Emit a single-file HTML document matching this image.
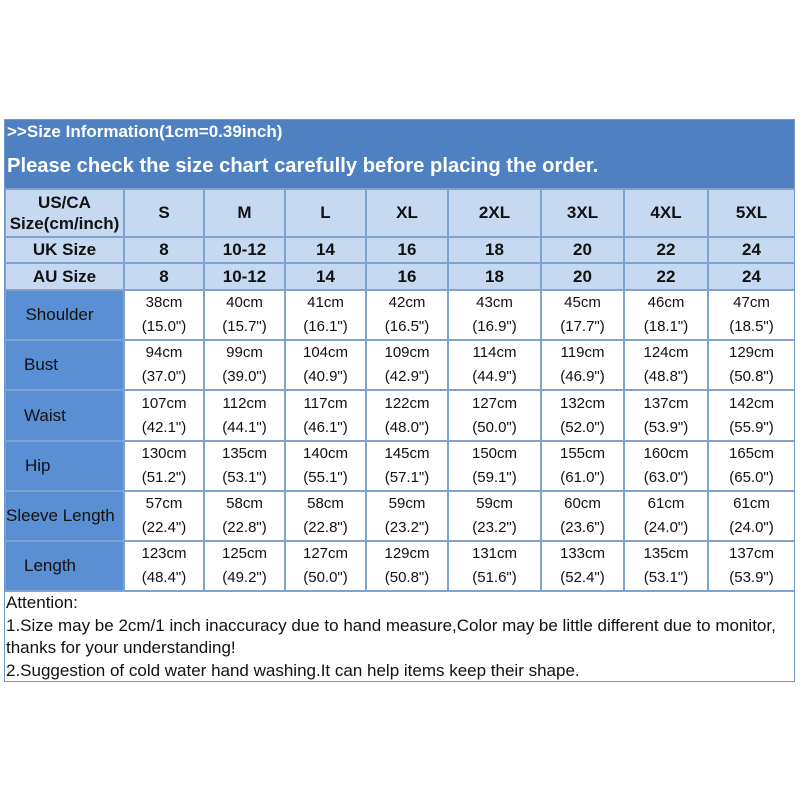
<!DOCTYPE html>
<html><head><style>
body{margin:0;width:800px;height:800px;background:#fff;font-family:"Liberation Sans",Arial,sans-serif;position:relative;overflow:hidden}
.box{position:absolute;left:4px;top:119px;width:791px;height:563px;border:1px solid #6f96c4;box-sizing:border-box;overflow:hidden}
.hd{background:#4f81c2;color:#fff;font-weight:bold;height:68px;position:relative}
.hd .a{position:absolute;left:2px;top:2px;font-size:17px}
.hd .b{position:absolute;left:2px;top:35px;font-size:20.2px}
table{border-collapse:collapse;table-layout:fixed;width:790px;margin-left:-1px}
td{border:2px solid #7ea3cf;text-align:center;padding:0;color:#111}
tr.h td{background:#c6d9f0;font-weight:bold;font-size:17px}
tr.d td{font-size:15px;line-height:24px}
tr.d td.l{background:#5a8fd3;color:#111;font-size:17px;padding-right:10px}
.att{font-size:17px;color:#111;padding:0 0 0 1px;line-height:22.5px}
</style></head><body>
<div class="box">
<div class="hd"><div class="a">&gt;&gt;Size Information(1cm=0.39inch)</div><div class="b">Please check the size chart carefully before placing the order.</div></div>
<table>
<colgroup><col style="width:119px"><col style="width:80px"><col style="width:81px"><col style="width:81px"><col style="width:82px"><col style="width:93px"><col style="width:83px"><col style="width:84px"><col style="width:87px"></colgroup>
<tr class="h" style="height:48px"><td style="line-height:21px">US/CA<br>Size(cm/inch)</td><td>S</td><td>M</td><td>L</td><td>XL</td><td>2XL</td><td>3XL</td><td>4XL</td><td>5XL</td></tr>
<tr class="h" style="height:26px"><td>UK Size</td><td>8</td><td>10-12</td><td>14</td><td>16</td><td>18</td><td>20</td><td>22</td><td>24</td></tr>
<tr class="h" style="height:27px"><td>AU Size</td><td>8</td><td>10-12</td><td>14</td><td>16</td><td>18</td><td>20</td><td>22</td><td>24</td></tr>
<tr class="d" style="height:50px"><td class="l">Shoulder</td><td>38cm<br>(15.0")</td><td>40cm<br>(15.7")</td><td>41cm<br>(16.1")</td><td>42cm<br>(16.5")</td><td>43cm<br>(16.9")</td><td>45cm<br>(17.7")</td><td>46cm<br>(18.1")</td><td>47cm<br>(18.5")</td></tr>
<tr class="d" style="height:49px"><td class="l" style="text-align:left;padding-left:18px">Bust</td><td>94cm<br>(37.0")</td><td>99cm<br>(39.0")</td><td>104cm<br>(40.9")</td><td>109cm<br>(42.9")</td><td>114cm<br>(44.9")</td><td>119cm<br>(46.9")</td><td>124cm<br>(48.8")</td><td>129cm<br>(50.8")</td></tr>
<tr class="d" style="height:51px"><td class="l" style="text-align:left;padding-left:18px">Waist</td><td>107cm<br>(42.1")</td><td>112cm<br>(44.1")</td><td>117cm<br>(46.1")</td><td>122cm<br>(48.0")</td><td>127cm<br>(50.0")</td><td>132cm<br>(52.0")</td><td>137cm<br>(53.9")</td><td>142cm<br>(55.9")</td></tr>
<tr class="d" style="height:50px"><td class="l" style="text-align:left;padding-left:19px">Hip</td><td>130cm<br>(51.2")</td><td>135cm<br>(53.1")</td><td>140cm<br>(55.1")</td><td>145cm<br>(57.1")</td><td>150cm<br>(59.1")</td><td>155cm<br>(61.0")</td><td>160cm<br>(63.0")</td><td>165cm<br>(65.0")</td></tr>
<tr class="d" style="height:50px"><td class="l" style="padding:0;text-align:left">Sleeve Length</td><td>57cm<br>(22.4")</td><td>58cm<br>(22.8")</td><td>58cm<br>(22.8")</td><td>59cm<br>(23.2")</td><td>59cm<br>(23.2")</td><td>60cm<br>(23.6")</td><td>61cm<br>(24.0")</td><td>61cm<br>(24.0")</td></tr>
<tr class="d" style="height:47px"><td class="l" style="text-align:left;padding-left:18px">Length</td><td>123cm<br>(48.4")</td><td>125cm<br>(49.2")</td><td>127cm<br>(50.0")</td><td>129cm<br>(50.8")</td><td>131cm<br>(51.6")</td><td>133cm<br>(52.4")</td><td>135cm<br>(53.1")</td><td>137cm<br>(53.9")</td></tr>
</table>
<div class="att">Attention:<br>1.Size may be 2cm/1 inch inaccuracy due to hand measure,Color may be little different due to monitor,<br>thanks for your understanding!<br>2.Suggestion of cold water hand washing.It can help items keep their shape.</div>
</div>
</body></html>
